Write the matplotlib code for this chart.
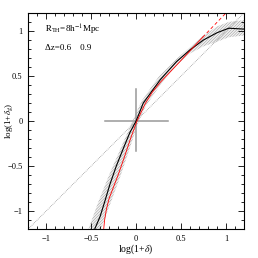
import numpy as np
import matplotlib
matplotlib.use('Agg')
import matplotlib.pyplot as plt
from matplotlib.ticker import MultipleLocator

plt.rcParams['font.family'] = ['Liberation Serif', 'DejaVu Serif']
plt.rcParams['mathtext.fontset'] = 'stix'
plt.rcParams['hatch.linewidth'] = 0.3

# black curve (measured) with hatched error band
black_x = [-0.46, -0.40, -0.35, -0.29, -0.22, -0.14, -0.07, 0.0, 0.08, 0.27, 0.45, 0.60, 0.75, 0.90, 1.03, 1.20]
black_y = [-1.20, -1.06, -0.90, -0.70, -0.50, -0.30, -0.13, 0.0, 0.20, 0.46, 0.66, 0.79, 0.90, 0.98, 1.03, 1.02]

band_upper_x = [-0.53, -0.42, -0.30, -0.17, -0.04, 0.06, 0.25, 0.45, 0.60, 0.75, 0.90, 1.03, 1.20]
band_upper_y = [-1.20, -0.90, -0.60, -0.30, 0.00, 0.22, 0.49, 0.69, 0.82, 0.95, 1.05, 1.10, 1.12]
band_lower_x = [-0.39, -0.28, -0.17, -0.07, 0.03, 0.11, 0.29, 0.45, 0.60, 0.75, 0.90, 1.03, 1.20]
band_lower_y = [-1.20, -0.90, -0.60, -0.30, 0.00, 0.17, 0.43, 0.62, 0.75, 0.83, 0.88, 0.93, 0.95]

# red curve: solid part and dashed extension
red_x = [-0.36, -0.35, -0.33, -0.30, -0.25, -0.20, -0.13, -0.06, 0.01, 0.10, 0.18, 0.27, 0.45, 0.60, 0.74]
red_y = [-1.20, -1.10, -0.98, -0.86, -0.73, -0.60, -0.40, -0.19, 0.00, 0.19, 0.32, 0.43, 0.62, 0.78, 0.93]
red_dash_x = [0.74, 1.00]
red_dash_y = [0.93, 1.20]

diag = [-1.2, 1.2]
cross_h = ([-0.35, 0.35], [0.0, 0.0])
cross_v = ([0.0, 0.0], [-0.33, 0.35])

fig = plt.figure(figsize=(2.58, 2.58), dpi=100)
ax = fig.add_axes([0.109, 0.112, 0.837, 0.838])

poly_x = band_upper_x + band_lower_x[::-1]
poly_y = band_upper_y + band_lower_y[::-1]
ax.fill(poly_x, poly_y, facecolor='#f2f2f2', edgecolor='#888888', hatch='////////////', linewidth=0)

ax.plot(diag, diag, color='#777777', lw=0.5, ls=(0, (1, 1.5)))
ax.plot(*cross_h, color='#999999', lw=1.1)
ax.plot(*cross_v, color='#999999', lw=1.1)
ax.plot(black_x, black_y, color='black', lw=0.8)
ax.plot(red_x, red_y, color='red', lw=0.6)
ax.plot(red_dash_x, red_dash_y, color='red', lw=0.6, ls=(0, (4, 3)))

ax.set_xlim(-1.2, 1.2)
ax.set_ylim(-1.2, 1.2)
ax.xaxis.set_minor_locator(MultipleLocator(0.1))
ax.yaxis.set_minor_locator(MultipleLocator(0.1))
ax.set_xticks([-1, -0.5, 0, 0.5, 1])
ax.set_xticklabels(['\u22121', '\u22120.5', '0', '0.5', '1'])
ax.set_yticks([-1, -0.5, 0, 0.5, 1])
ax.set_yticklabels(['\u22121', '\u22120.5', '0', '0.5', '1'])
ax.tick_params(which='both', direction='in', top=True, right=True, labelsize=6, width=0.6, pad=4)
ax.tick_params(which='major', length=4)
ax.tick_params(which='minor', length=2)
for s in ax.spines.values():
    s.set_linewidth(0.8)

ax.text(-1.01, 1.01, r'$\rm R_{TH}$=8h$^{-1}$Mpc', fontsize=6.5, va='center')
ax.text(-1.01, 0.81, '\u0394z=0.6    0.9', fontsize=6.5, va='center')

ax.set_xlabel(r'log(1+$\delta$)', fontsize=7)
ax.set_ylabel(r'log(1+$\delta_{\rm g}$)', fontsize=6.5)
ax.xaxis.set_label_coords(0.5, -0.06)
ax.yaxis.set_label_coords(-0.06, 0.5)

fig.savefig('out.png', dpi=100)
